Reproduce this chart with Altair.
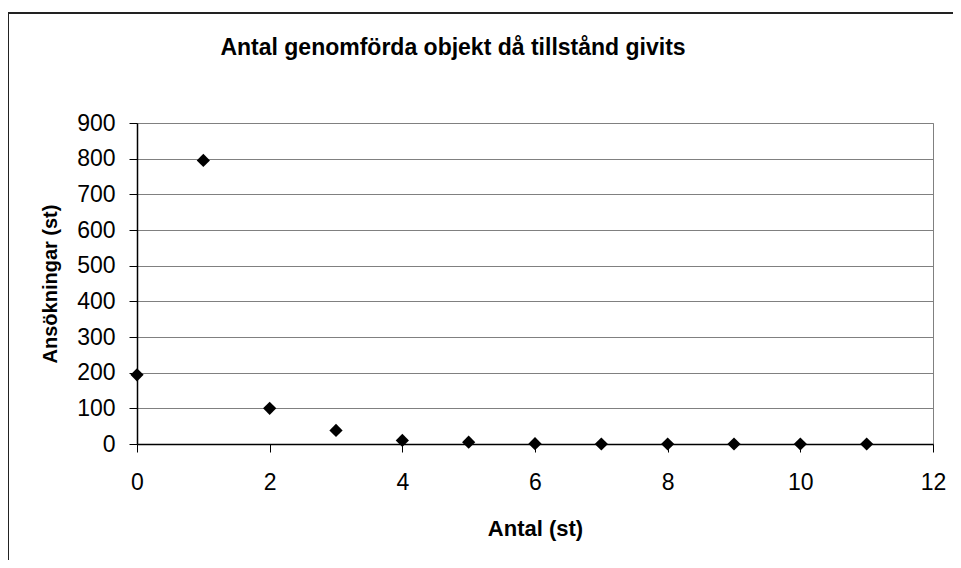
import altair as alt
import pandas as pd

antal = [0, 1, 2, 3, 4, 5, 6, 7, 8, 9, 10, 11]
ansokningar = [194, 795, 100, 38, 10, 5, 1, 0, 0, 0, 0, 0]
chart_title = ["Antal genomförda objekt då tillstånd givits"]

df = pd.DataFrame({"Antal": antal, "Ansokningar": ansokningar})
title_df = pd.DataFrame({"t": chart_title})

FONT = "Liberation Sans"
W, H = 796, 321

points = alt.Chart(df).mark_point(
    shape="diamond", filled=True, color="black", size=175, opacity=1
).encode(
    x=alt.X("Antal:Q",
            scale=alt.Scale(domain=[0, 12], nice=False),
            axis=alt.Axis(values=[0, 2, 4, 6, 8, 10, 12], grid=False,
                          title="Antal (st)", titleX=W / 2, titleY=91,
                          titleFontSize=22,
                          titleBaseline="alphabetic", titleAlign="center",
                          labelFlush=False, labelOverlap=False,
                          labelPadding=19)),
    y=alt.Y("Ansokningar:Q",
            scale=alt.Scale(domain=[0, 900], nice=False),
            axis=alt.Axis(values=list(range(0, 1000, 100)), grid=True,
                          title="Ansökningar (st)", titleX=-87, titleY=H / 2,
                          titleFontSize=20,
                          titleAngle=-90, titleBaseline="middle", titleAlign="center",
                          labelFlush=False, labelOverlap=False,
                          labelPadding=14)),
)

title_mark = alt.Chart(title_df).mark_text(
    font=FONT, fontSize=23, fontWeight="bold", color="black",
    align="center", baseline="alphabetic"
).encode(
    text="t:N", x=alt.value(316), y=alt.value(-68)
)

frame_left = alt.Chart(df).mark_rule(color="#222222", strokeWidth=2).encode(
    x=alt.value(-129), y=alt.value(-110), y2=alt.value(H + 120)
)
frame_top = alt.Chart(df).mark_rule(color="#222222", strokeWidth=2).encode(
    x=alt.value(-129), x2=alt.value(W + 20), y=alt.value(-110)
)

chart = alt.layer(frame_left, frame_top, title_mark, points).properties(
    width=W, height=H,
    autosize=alt.AutoSizeParams(type="none"),
    padding={"left": 129, "top": 115, "right": 20, "bottom": 116},
).configure(
    background="white",
).configure_view(
    stroke="#808080", strokeWidth=1,
).configure_axis(
    labelFont=FONT, labelFontSize=23, labelColor="black",
    titleFont=FONT, titleFontWeight="bold", titleColor="black",
    domainColor="black", domainWidth=1.5,
    tickColor="black", tickSize=8, tickWidth=1,
    gridColor="#808080", gridWidth=1,
)

chart.save("out.html", embed_options={"renderer": "svg", "actions": False})
